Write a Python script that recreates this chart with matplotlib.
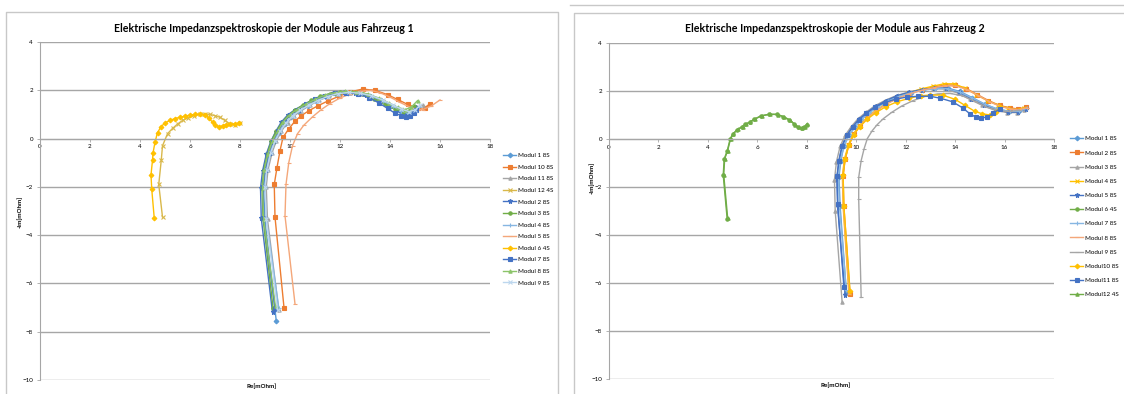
import matplotlib.pyplot as plt
from matplotlib.lines import Line2D

plt.rcParams['font.family'] = ['Lato', 'DejaVu Sans']

# ---------- Fahrzeug 1 ----------
f1_labels = ['Modul 1 8S', 'Modul 10 8S', 'Modul 11 8S', 'Modul 12 4S', 'Modul 2 8S', 'Modul 3 8S',
             'Modul 4 8S', 'Modul 5 8S', 'Modul 6 4S', 'Modul 7 8S', 'Modul 8 8S', 'Modul 9 8S']

f1_m1_x = [9.45, 9.0, 8.95, 9.02, 9.18, 9.35, 9.55, 9.8, 10.05, 10.35, 10.7, 11.05, 11.45, 11.85, 12.3, 12.75, 13.2, 13.65, 14.05, 14.4, 14.65, 14.85, 15.05]
f1_m1_y = [-7.55, -3.4, -2.1, -1.35, -0.65, -0.15, 0.25, 0.62, 0.9, 1.12, 1.35, 1.55, 1.73, 1.85, 1.9, 1.88, 1.78, 1.58, 1.35, 1.15, 1.02, 1.05, 1.25]
f1_m10_x = [9.76, 9.4, 9.37, 9.48, 9.6, 9.72, 9.95, 10.2, 10.45, 10.75, 11.1, 11.5, 11.95, 12.4, 12.9, 13.4, 13.9, 14.3, 14.7, 15.1, 15.4, 15.6]
f1_m10_y = [-7.0, -3.25, -1.9, -1.2, -0.5, 0.05, 0.4, 0.72, 0.95, 1.15, 1.35, 1.55, 1.75, 1.93, 2.05, 2.0, 1.82, 1.62, 1.42, 1.25, 1.28, 1.45]
f1_m11_x = [9.55, 9.1, 9.05, 9.12, 9.28, 9.45, 9.65, 9.9, 10.15, 10.45, 10.8, 11.15, 11.55, 11.95, 12.4, 12.85, 13.3, 13.75, 14.15, 14.5, 14.8, 15.05, 15.3]
f1_m11_y = [-7.1, -3.35, -2.0, -1.3, -0.6, -0.1, 0.3, 0.66, 0.93, 1.15, 1.38, 1.58, 1.75, 1.86, 1.9, 1.86, 1.74, 1.55, 1.35, 1.2, 1.12, 1.2, 1.38]
f1_m12_x = [4.9, 4.75, 4.85, 4.9, 5.1, 5.3, 5.5, 5.7, 5.9, 6.15, 6.4, 6.6, 6.8, 7.0, 7.2, 7.4, 7.6, 7.8, 8.0]
f1_m12_y = [-3.25, -1.9, -0.9, -0.3, 0.2, 0.42, 0.6, 0.75, 0.85, 0.95, 1.0, 1.02, 1.0, 0.95, 0.88, 0.75, 0.6, 0.55, 0.65]
f1_m2_x = [9.3, 8.85, 8.82, 8.9, 9.05, 9.22, 9.42, 9.65, 9.9, 10.2, 10.55, 10.9, 11.3, 11.7, 12.15, 12.6, 13.05, 13.5, 13.9, 14.3, 14.6, 14.85, 15.05]
f1_m2_y = [-7.2, -3.3, -2.05, -1.35, -0.65, -0.15, 0.28, 0.68, 0.97, 1.2, 1.4, 1.6, 1.77, 1.88, 1.93, 1.9, 1.8, 1.6, 1.38, 1.18, 1.05, 1.1, 1.3]
f1_m3_x = [9.32, 8.92, 8.88, 8.95, 9.1, 9.25, 9.45, 9.7, 9.95, 10.2, 10.5, 10.85, 11.2, 11.6, 12.0, 12.45, 12.9, 13.35, 13.8, 14.2, 14.5, 14.75, 14.95]
f1_m3_y = [-7.0, -3.3, -2.0, -1.3, -0.6, -0.1, 0.3, 0.7, 0.98, 1.18, 1.38, 1.58, 1.75, 1.86, 1.92, 1.92, 1.83, 1.65, 1.42, 1.22, 1.12, 1.15, 1.35]
f1_m4_x = [9.55, 9.05, 9.0, 9.08, 9.22, 9.4, 9.6, 9.85, 10.1, 10.4, 10.75, 11.1, 11.5, 11.9, 12.35, 12.8, 13.25, 13.7, 14.1, 14.45, 14.7, 14.95, 15.15]
f1_m4_y = [-7.0, -3.3, -2.0, -1.3, -0.6, -0.1, 0.3, 0.67, 0.95, 1.17, 1.38, 1.57, 1.74, 1.86, 1.9, 1.87, 1.76, 1.57, 1.35, 1.15, 1.05, 1.1, 1.3]
f1_m5_x = [10.2, 9.8, 9.84, 9.95, 10.1, 10.3, 10.55, 10.9, 11.25, 11.6, 12.0, 12.4, 12.8, 13.2, 13.6, 14.0, 14.4, 14.8, 15.1, 15.3, 15.65, 16.0]
f1_m5_y = [-6.85, -3.2, -1.9, -1.0, -0.3, 0.2, 0.55, 0.9, 1.2, 1.45, 1.68, 1.85, 1.95, 2.0, 1.9, 1.72, 1.5, 1.3, 1.2, 1.2, 1.35, 1.6]
f1_m6_x = [4.57, 4.47, 4.44, 4.5, 4.52, 4.6, 4.7, 4.85, 5.0, 5.2, 5.4, 5.6, 5.8, 6.0, 6.2, 6.4, 6.6, 6.75, 6.9, 7.0, 7.15, 7.3, 7.45, 7.6, 7.8, 7.95]
f1_m6_y = [-3.3, -2.1, -1.5, -0.9, -0.6, -0.15, 0.25, 0.5, 0.65, 0.75, 0.83, 0.88, 0.93, 0.97, 1.0, 1.02, 0.98, 0.85, 0.68, 0.55, 0.5, 0.52, 0.58, 0.62, 0.6, 0.65]
f1_m7_x = [9.4, 8.95, 8.92, 9.0, 9.15, 9.32, 9.52, 9.75, 10.0, 10.3, 10.65, 11.0, 11.4, 11.8, 12.25, 12.7, 13.15, 13.55, 13.9, 14.2, 14.45, 14.65, 14.8, 14.95, 15.05]
f1_m7_y = [-7.05, -3.3, -2.0, -1.3, -0.6, -0.1, 0.3, 0.68, 0.96, 1.2, 1.42, 1.62, 1.78, 1.88, 1.9, 1.85, 1.7, 1.48, 1.25, 1.05, 0.95, 0.9, 0.93, 1.05, 1.2]
f1_m8_x = [9.42, 8.95, 8.9, 8.97, 9.12, 9.3, 9.5, 9.72, 9.98, 10.28, 10.62, 11.0, 11.4, 11.8, 12.2, 12.65, 13.1, 13.55, 13.95, 14.3, 14.6, 14.85, 15.1]
f1_m8_y = [-6.95, -3.35, -2.05, -1.3, -0.62, -0.1, 0.3, 0.68, 0.98, 1.2, 1.42, 1.62, 1.8, 1.9, 1.95, 1.93, 1.85, 1.68, 1.48, 1.3, 1.2, 1.3, 1.57]
f1_m9_x = [9.5, 9.05, 9.0, 9.07, 9.22, 9.4, 9.6, 9.85, 10.1, 10.4, 10.75, 11.1, 11.5, 11.9, 12.35, 12.8, 13.25, 13.7, 14.1, 14.45, 14.75, 15.0, 15.2]
f1_m9_y = [-7.1, -3.35, -2.0, -1.3, -0.6, -0.1, 0.3, 0.66, 0.94, 1.17, 1.38, 1.57, 1.74, 1.86, 1.91, 1.88, 1.78, 1.6, 1.4, 1.22, 1.12, 1.18, 1.38]

# ---------- Fahrzeug 2 ----------
f2_labels = ['Modul 1 8S', 'Modul 2 8S', 'Modul 3 8S', 'Modul 4 8S', 'Modul 5 8S', 'Modul 6 4S',
             'Modul 7 8S', 'Modul 8 8S', 'Modul 9 8S', 'Modul10 8S', 'Modul11 8S', 'Modul12 4S']

f2_m1_x = [9.6, 9.35, 9.3, 9.38, 9.5, 9.7, 9.95, 10.2, 10.5, 10.85, 11.25, 11.7, 12.2, 12.7, 13.2, 13.7, 14.2, 14.7, 15.2, 15.7, 16.2, 16.6, 16.85]
f2_m1_y = [-6.4, -2.8, -1.6, -0.9, -0.3, 0.15, 0.5, 0.8, 1.08, 1.35, 1.58, 1.78, 1.93, 2.05, 2.12, 2.12, 1.98, 1.72, 1.45, 1.25, 1.15, 1.15, 1.28]
f2_m2_x = [9.75, 9.5, 9.47, 9.55, 9.7, 9.9, 10.15, 10.45, 10.8, 11.2, 11.65, 12.15, 12.65, 13.15, 13.6, 14.0, 14.45, 14.9, 15.35, 15.8, 16.2, 16.55, 16.85]
f2_m2_y = [-6.45, -2.8, -1.55, -0.85, -0.25, 0.2, 0.55, 0.88, 1.18, 1.45, 1.7, 1.9, 2.05, 2.17, 2.25, 2.25, 2.1, 1.85, 1.6, 1.4, 1.3, 1.25, 1.32]
f2_m3_x = [9.43, 9.15, 9.12, 9.2, 9.35, 9.55, 9.8, 10.08, 10.4, 10.75, 11.15, 11.6, 12.1, 12.6, 13.1, 13.6, 14.1, 14.6, 15.1, 15.6, 16.1, 16.5, 16.8]
f2_m3_y = [-6.8, -3.0, -1.7, -0.95, -0.3, 0.15, 0.52, 0.85, 1.12, 1.38, 1.6, 1.8, 1.95, 2.05, 2.1, 2.08, 1.92, 1.65, 1.4, 1.2, 1.1, 1.1, 1.22]
f2_m4_x = [9.7, 9.47, 9.44, 9.52, 9.68, 9.88, 10.12, 10.42, 10.78, 11.18, 11.62, 12.1, 12.6, 13.1, 13.55, 13.95, 14.4, 14.85, 15.3, 15.75, 16.15, 16.5, 16.8]
f2_m4_y = [-6.4, -2.8, -1.55, -0.85, -0.25, 0.2, 0.55, 0.88, 1.18, 1.45, 1.7, 1.92, 2.08, 2.2, 2.3, 2.3, 2.12, 1.85, 1.6, 1.4, 1.28, 1.22, 1.3]
f2_m5_x = [9.55, 9.25, 9.22, 9.3, 9.43, 9.62, 9.86, 10.12, 10.45, 10.8, 11.2, 11.65, 12.15, 12.65, 13.15, 13.65, 14.15, 14.65, 15.15, 15.65, 16.15, 16.55, 16.85]
f2_m5_y = [-6.5, -2.85, -1.65, -0.9, -0.28, 0.15, 0.52, 0.82, 1.1, 1.36, 1.6, 1.8, 1.95, 2.06, 2.12, 2.12, 1.95, 1.68, 1.42, 1.22, 1.12, 1.12, 1.25]
f2_m6_x = [4.78, 4.62, 4.66, 4.78, 4.9, 5.0, 5.18, 5.37, 5.5, 5.7, 5.86, 6.14, 6.48, 6.8, 7.05, 7.3, 7.5, 7.66, 7.8, 7.9, 8.0]
f2_m6_y = [-3.33, -1.5, -0.83, -0.5, 0.0, 0.2, 0.38, 0.5, 0.61, 0.7, 0.82, 0.96, 1.03, 1.03, 0.93, 0.8, 0.62, 0.5, 0.44, 0.5, 0.6]
f2_m7_x = [9.6, 9.32, 9.28, 9.36, 9.5, 9.7, 9.94, 10.2, 10.52, 10.88, 11.28, 11.72, 12.2, 12.7, 13.2, 13.7, 14.2, 14.7, 15.2, 15.7, 16.2, 16.6, 16.9]
f2_m7_y = [-6.3, -2.75, -1.6, -0.9, -0.3, 0.15, 0.5, 0.8, 1.08, 1.33, 1.57, 1.77, 1.92, 2.03, 2.1, 2.1, 1.95, 1.7, 1.45, 1.25, 1.15, 1.15, 1.28]
f2_m8_x = [9.72, 9.48, 9.45, 9.54, 9.7, 9.9, 10.15, 10.45, 10.8, 11.2, 11.65, 12.15, 12.65, 13.15, 13.6, 14.05, 14.5, 14.95, 15.4, 15.85, 16.25, 16.6, 16.9]
f2_m8_y = [-6.45, -2.8, -1.55, -0.85, -0.25, 0.2, 0.55, 0.88, 1.17, 1.44, 1.68, 1.88, 2.03, 2.14, 2.22, 2.2, 2.05, 1.8, 1.55, 1.35, 1.25, 1.22, 1.3]
f2_m9_x = [10.2, 10.1, 10.1, 10.2, 10.32, 10.45, 10.65, 10.85, 11.1, 11.45, 11.85, 12.3, 12.8, 13.3, 13.8, 14.3, 14.8, 15.3, 15.8, 16.2, 16.6]
f2_m9_y = [-6.6, -2.5, -1.6, -0.9, -0.4, 0.02, 0.35, 0.6, 0.85, 1.12, 1.38, 1.6, 1.78, 1.88, 1.9, 1.8, 1.57, 1.32, 1.17, 1.15, 1.2]
f2_m10_x = [9.75, 9.5, 9.47, 9.55, 9.7, 9.9, 10.15, 10.45, 10.8, 11.2, 11.65, 12.15, 12.6, 13.0, 13.5, 14.0, 14.4, 14.8, 15.1, 15.4, 15.65, 15.8]
f2_m10_y = [-6.35, -2.8, -1.5, -0.85, -0.25, 0.18, 0.52, 0.83, 1.1, 1.35, 1.55, 1.7, 1.8, 1.83, 1.83, 1.65, 1.4, 1.15, 1.05, 1.0, 1.12, 1.35]
f2_m11_x = [9.5, 9.25, 9.22, 9.3, 9.43, 9.62, 9.85, 10.1, 10.4, 10.75, 11.15, 11.6, 12.05, 12.5, 13.0, 13.4, 13.9, 14.3, 14.6, 14.85, 15.05, 15.3, 15.55, 15.8]
f2_m11_y = [-6.15, -2.7, -1.55, -0.9, -0.28, 0.15, 0.5, 0.8, 1.08, 1.33, 1.52, 1.66, 1.75, 1.78, 1.78, 1.7, 1.55, 1.3, 1.05, 0.9, 0.87, 0.92, 1.08, 1.25]
f2_m12_x = [4.8, 4.64, 4.68, 4.8, 4.92, 5.03, 5.2, 5.4, 5.53, 5.72, 5.9, 6.18, 6.5, 6.82, 7.08, 7.32, 7.52, 7.68, 7.82, 7.92, 8.0]
f2_m12_y = [-3.3, -1.48, -0.82, -0.48, 0.02, 0.22, 0.4, 0.52, 0.62, 0.72, 0.83, 0.97, 1.03, 1.02, 0.92, 0.78, 0.6, 0.48, 0.45, 0.52, 0.62]

# colours / markers (excel like)
blue = '#5B9BD5'
orange = '#ED7D31'
gray = '#A5A5A5'
gold = '#FFC000'
dblue = '#4472C4'
green = '#70AD47'
lblue = '#86B6E2'
lorange = '#F4A77A'
lgreen = '#8CC46A'
vlblue = '#BDD7EE'

f1_series = [
    (f1_m1_x, f1_m1_y, blue, 'D'),
    (f1_m10_x, f1_m10_y, orange, 's'),
    (f1_m11_x, f1_m11_y, gray, '^'),
    (f1_m12_x, f1_m12_y, '#D9B84A', 'x'),
    (f1_m2_x, f1_m2_y, dblue, '*'),
    (f1_m3_x, f1_m3_y, green, 'o'),
    (f1_m4_x, f1_m4_y, lblue, '+'),
    (f1_m5_x, f1_m5_y, lorange, '_'),
    (f1_m6_x, f1_m6_y, gold, 'D'),
    (f1_m7_x, f1_m7_y, dblue, 's'),
    (f1_m8_x, f1_m8_y, lgreen, '^'),
    (f1_m9_x, f1_m9_y, vlblue, 'x'),
]

f2_series = [
    (f2_m1_x, f2_m1_y, blue, 'D'),
    (f2_m2_x, f2_m2_y, orange, 's'),
    (f2_m3_x, f2_m3_y, gray, '^'),
    (f2_m4_x, f2_m4_y, gold, 'x'),
    (f2_m5_x, f2_m5_y, dblue, '*'),
    (f2_m6_x, f2_m6_y, green, 'o'),
    (f2_m7_x, f2_m7_y, lblue, '+'),
    (f2_m8_x, f2_m8_y, lorange, '_'),
    (f2_m9_x, f2_m9_y, gray, '_'),
    (f2_m10_x, f2_m10_y, gold, 'D'),
    (f2_m11_x, f2_m11_y, dblue, 's'),
    (f2_m12_x, f2_m12_y, green, '^'),
]

W, H = 1124, 394
fig = plt.figure(figsize=(W / 100, H / 100), dpi=100)


def px(x0, y0, x1, y1):
    # pixel box -> figure fraction [l, b, w, h]
    return [x0 / W, 1 - y1 / H, (x1 - x0) / W, (y1 - y0) / H]


def draw_chart(rect, series, labels, title, title_x, ylab_pos, xlab_pos, leg_pos, leg_spacing):
    ax = fig.add_axes(rect)
    for (x, y, c, m), lab in zip(series, labels):
        ms = 3.6 if m == '*' else 2.4
        ax.plot(x, y, color=c, lw=1.0, marker=m, ms=ms, mew=0.8, mfc=c, mec=c, label=lab)
    ax.set_xlim(0, 18)
    ax.set_ylim(-10, 4)
    ax.set_xticks(range(0, 19, 2))
    ax.set_yticks(range(-10, 5, 2))
    ax.yaxis.grid(True, color='#A6A6A6', lw=1.0)
    ax.set_axisbelow(True)
    ax.spines['top'].set_visible(False)
    ax.spines['right'].set_visible(False)
    ax.spines['left'].set_color('#A6A6A6')
    ax.spines['bottom'].set_position(('data', 0))
    ax.spines['bottom'].set_color('#A6A6A6')
    ax.tick_params(axis='both', labelsize=4.5, length=2, width=0.6, color='#A6A6A6', pad=2)
    ax.tick_params(axis='y', pad=3)

    fig.text(title_x / W, 1 - 28 / H, title, ha='center', va='center', fontsize=7.7, fontweight='bold')
    fig.text(ylab_pos[0] / W, 1 - ylab_pos[1] / H, '-Im[mOhm]', rotation=90, ha='center', va='center',
             fontsize=4.5, fontweight='bold')
    fig.text(xlab_pos[0] / W, 1 - xlab_pos[1] / H, 'Re[mOhm]', ha='center', va='center',
             fontsize=4.5, fontweight='bold')
    ax.legend(loc='upper left', bbox_to_anchor=(leg_pos[0] / W, 1 - leg_pos[1] / H),
              bbox_transform=fig.transFigure, frameon=False, fontsize=4.5, borderpad=0,
              borderaxespad=0, handlelength=2.1, handletextpad=0.3, labelspacing=leg_spacing)
    return ax


# panel frames
fig.add_artist(Line2D([6 / W, 6 / W, 558 / W, 558 / W], [0, 1 - 12 / H, 1 - 12 / H, 0],
                      color='#C8C8C8', lw=1.0))
fig.add_artist(Line2D([574 / W, 574 / W, 1], [0, 1 - 13 / H, 1 - 13 / H], color='#C8C8C8', lw=1.0))
fig.add_artist(Line2D([570 / W, 1], [1 - 5 / H, 1 - 5 / H], color='#C8C8C8', lw=1.0))

draw_chart(px(40, 42, 490, 380), f1_series, f1_labels,
           'Elektrische Impedanzspektroskopie der Module aus Fahrzeug 1', 264,
           (20, 212), (262, 386), (503, 153), 0.99)
draw_chart(px(609, 43, 1054, 379), f2_series, f2_labels,
           'Elektrische Impedanzspektroskopie der Module aus Fahrzeug 2', 835,
           (592, 178), (836, 385), (1070, 136), 1.41)

fig.savefig('out.png', dpi=100)
